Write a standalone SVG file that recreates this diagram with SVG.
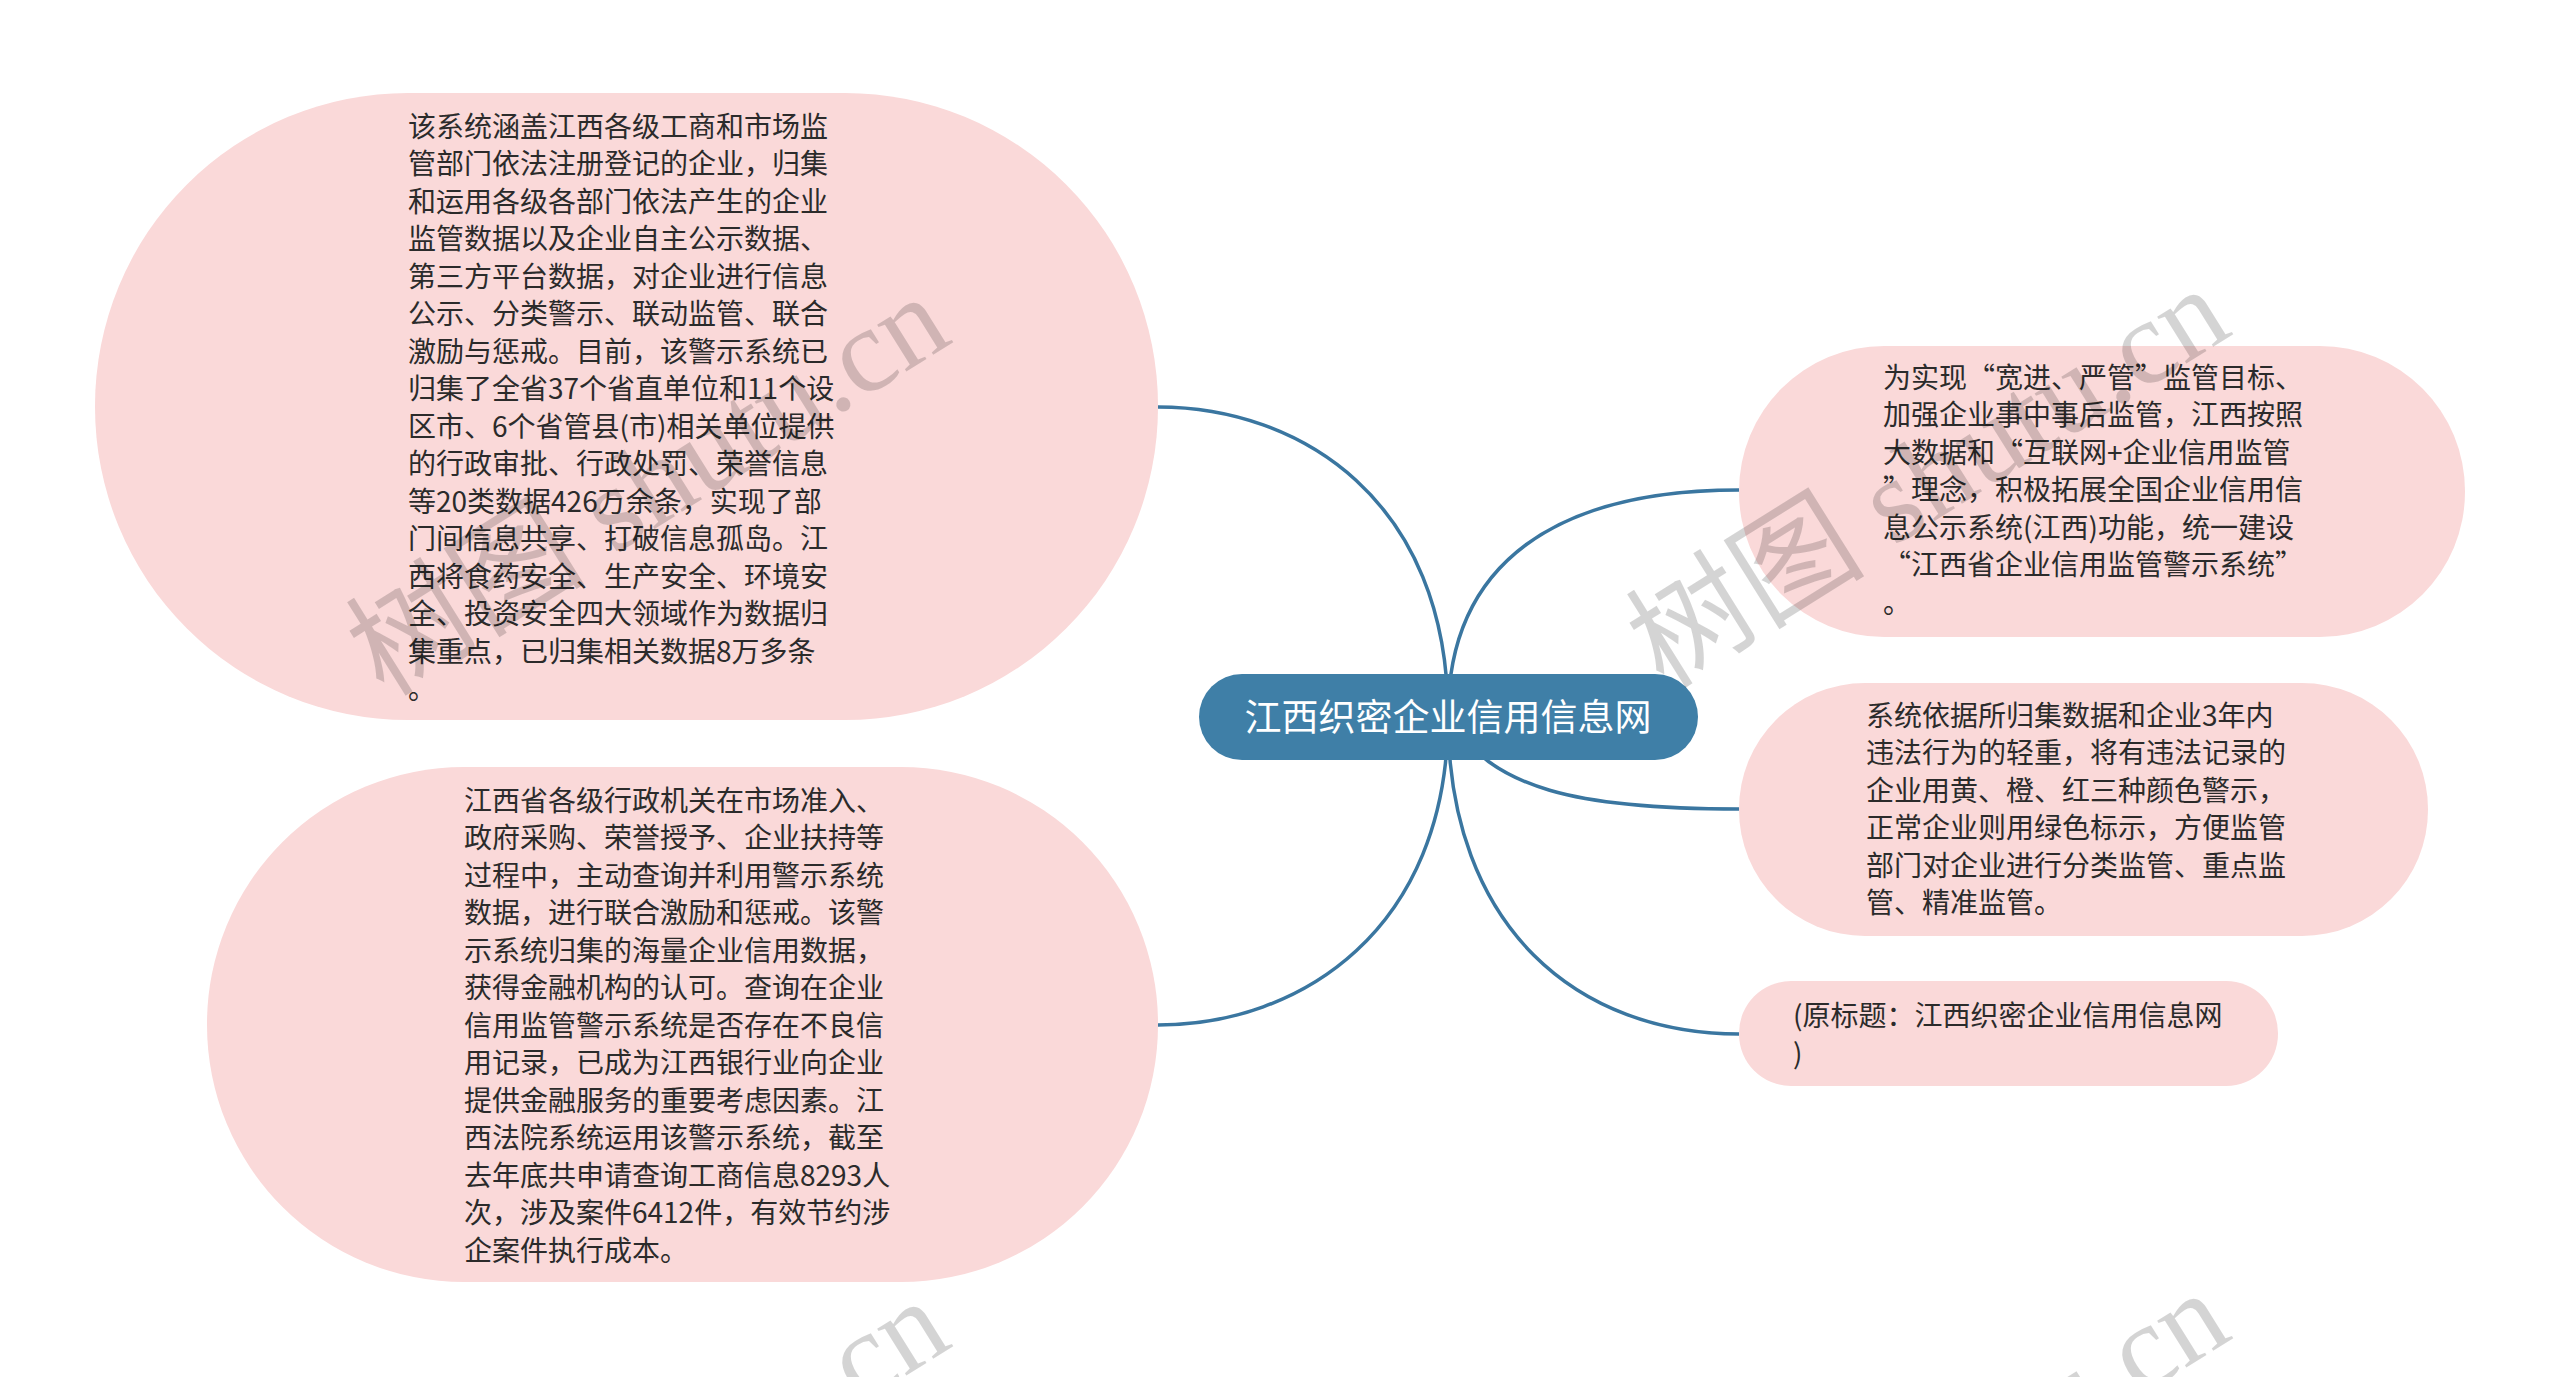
<svg xmlns="http://www.w3.org/2000/svg" width="2560" height="1377" viewBox="0 0 2560 1377">
<style>
.bg{fill:#ffffff}
.leaf{fill:#fad9d9}
.root{fill:#3f7fa7}
.t{font-family:"Noto Sans CJK SC","Microsoft YaHei",sans-serif;font-size:28px;fill:#2b2b2b}
.rt{font-family:"Noto Sans CJK SC","Microsoft YaHei",sans-serif;font-size:37px;fill:#ffffff}
.edge{fill:none;stroke:#3a76a0;stroke-width:3.5}
.wm{font-family:"Liberation Serif","Noto Sans CJK SC",serif;font-size:120px;fill:#000000;fill-opacity:0.17}
</style>
<rect class="bg" x="0" y="0" width="2560" height="1377"/>
<g id="connectors">
<path class="edge" d="M1448,716 C1448,500 1300,407 1158,407"/>
<path class="edge" d="M1448,716 C1448,560 1560,490 1739,490"/>
<path class="edge" d="M1448,716 C1448,930 1300,1025 1158,1025"/>
<path class="edge" d="M1448,716 C1490,790 1580,809 1739,809"/>
<path class="edge" d="M1448,716 C1448,930 1580,1034 1739,1034"/>
</g>
<g id="node-left-1">
<rect class="leaf" x="95" y="93" width="1063" height="627" rx="313" ry="313"/>
<text class="t" x="408" y="136.6">
<tspan x="408" dy="0">该系统涵盖江西各级工商和市场监</tspan>
<tspan x="408" dy="37.5">管部门依法注册登记的企业，归集</tspan>
<tspan x="408" dy="37.5">和运用各级各部门依法产生的企业</tspan>
<tspan x="408" dy="37.5">监管数据以及企业自主公示数据、</tspan>
<tspan x="408" dy="37.5">第三方平台数据，对企业进行信息</tspan>
<tspan x="408" dy="37.5">公示、分类警示、联动监管、联合</tspan>
<tspan x="408" dy="37.5">激励与惩戒。目前，该警示系统已</tspan>
<tspan x="408" dy="37.5">归集了全省37个省直单位和11个设</tspan>
<tspan x="408" dy="37.5">区市、6个省管县(市)相关单位提供</tspan>
<tspan x="408" dy="37.5">的行政审批、行政处罚、荣誉信息</tspan>
<tspan x="408" dy="37.5">等20类数据426万余条，实现了部</tspan>
<tspan x="408" dy="37.5">门间信息共享、打破信息孤岛。江</tspan>
<tspan x="408" dy="37.5">西将食药安全、生产安全、环境安</tspan>
<tspan x="408" dy="37.5">全、投资安全四大领域作为数据归</tspan>
<tspan x="408" dy="37.5">集重点，已归集相关数据8万多条</tspan>
<tspan x="408" dy="37.5">。</tspan>
</text>
</g>
<g id="node-left-2">
<rect class="leaf" x="207" y="767" width="951" height="515" rx="257" ry="257"/>
<text class="t" x="464" y="810.6">
<tspan x="464" dy="0">江西省各级行政机关在市场准入、</tspan>
<tspan x="464" dy="37.5">政府采购、荣誉授予、企业扶持等</tspan>
<tspan x="464" dy="37.5">过程中，主动查询并利用警示系统</tspan>
<tspan x="464" dy="37.5">数据，进行联合激励和惩戒。该警</tspan>
<tspan x="464" dy="37.5">示系统归集的海量企业信用数据，</tspan>
<tspan x="464" dy="37.5">获得金融机构的认可。查询在企业</tspan>
<tspan x="464" dy="37.5">信用监管警示系统是否存在不良信</tspan>
<tspan x="464" dy="37.5">用记录，已成为江西银行业向企业</tspan>
<tspan x="464" dy="37.5">提供金融服务的重要考虑因素。江</tspan>
<tspan x="464" dy="37.5">西法院系统运用该警示系统，截至</tspan>
<tspan x="464" dy="37.5">去年底共申请查询工商信息8293人</tspan>
<tspan x="464" dy="37.5">次，涉及案件6412件，有效节约涉</tspan>
<tspan x="464" dy="37.5">企案件执行成本。</tspan>
</text>
</g>
<g id="node-right-1">
<rect class="leaf" x="1739" y="346" width="726" height="291" rx="145" ry="145"/>
<text class="t" x="1883" y="387.6">
<tspan x="1883" dy="0">为实现“宽进、严管”监管目标、</tspan>
<tspan x="1883" dy="37.5">加强企业事中事后监管，江西按照</tspan>
<tspan x="1883" dy="37.5">大数据和“互联网+企业信用监管</tspan>
<tspan x="1883" dy="37.5">”理念，积极拓展全国企业信用信</tspan>
<tspan x="1883" dy="37.5">息公示系统(江西)功能，统一建设</tspan>
<tspan x="1883" dy="37.5">“江西省企业信用监管警示系统”</tspan>
<tspan x="1883" dy="37.5">。</tspan>
</text>
</g>
<g id="node-right-2">
<rect class="leaf" x="1739" y="683" width="689" height="253" rx="126" ry="126"/>
<text class="t" x="1866" y="725.6">
<tspan x="1866" dy="0">系统依据所归集数据和企业3年内</tspan>
<tspan x="1866" dy="37.5">违法行为的轻重，将有违法记录的</tspan>
<tspan x="1866" dy="37.5">企业用黄、橙、红三种颜色警示，</tspan>
<tspan x="1866" dy="37.5">正常企业则用绿色标示，方便监管</tspan>
<tspan x="1866" dy="37.5">部门对企业进行分类监管、重点监</tspan>
<tspan x="1866" dy="37.5">管、精准监管。</tspan>
</text>
</g>
<g id="node-right-3">
<rect class="leaf" x="1739" y="981" width="539" height="105" rx="52" ry="52"/>
<text class="t" x="1793" y="1026">
<tspan x="1793" dy="0">(原标题：江西织密企业信用信息网</tspan>
<tspan x="1793" dy="37.5">)</tspan>
</text>
</g>
<g id="node-root">
<rect class="root" x="1199" y="674" width="499" height="86" rx="43" ry="43"/>
<text class="rt" x="1448" y="731" text-anchor="middle">江西织密企业信用信息网</text>
</g>
<g id="watermarks">
<text class="wm" transform="translate(384,698) rotate(-32)">树图 shutu.cn</text>
<text class="wm" transform="translate(1664,690) rotate(-32)">树图 shutu.cn</text>
<text class="wm" transform="translate(384,1702) rotate(-32)">树图 shutu.cn</text>
<text class="wm" transform="translate(1664,1694) rotate(-32)">树图 shutu.cn</text>
</g>
</svg>
